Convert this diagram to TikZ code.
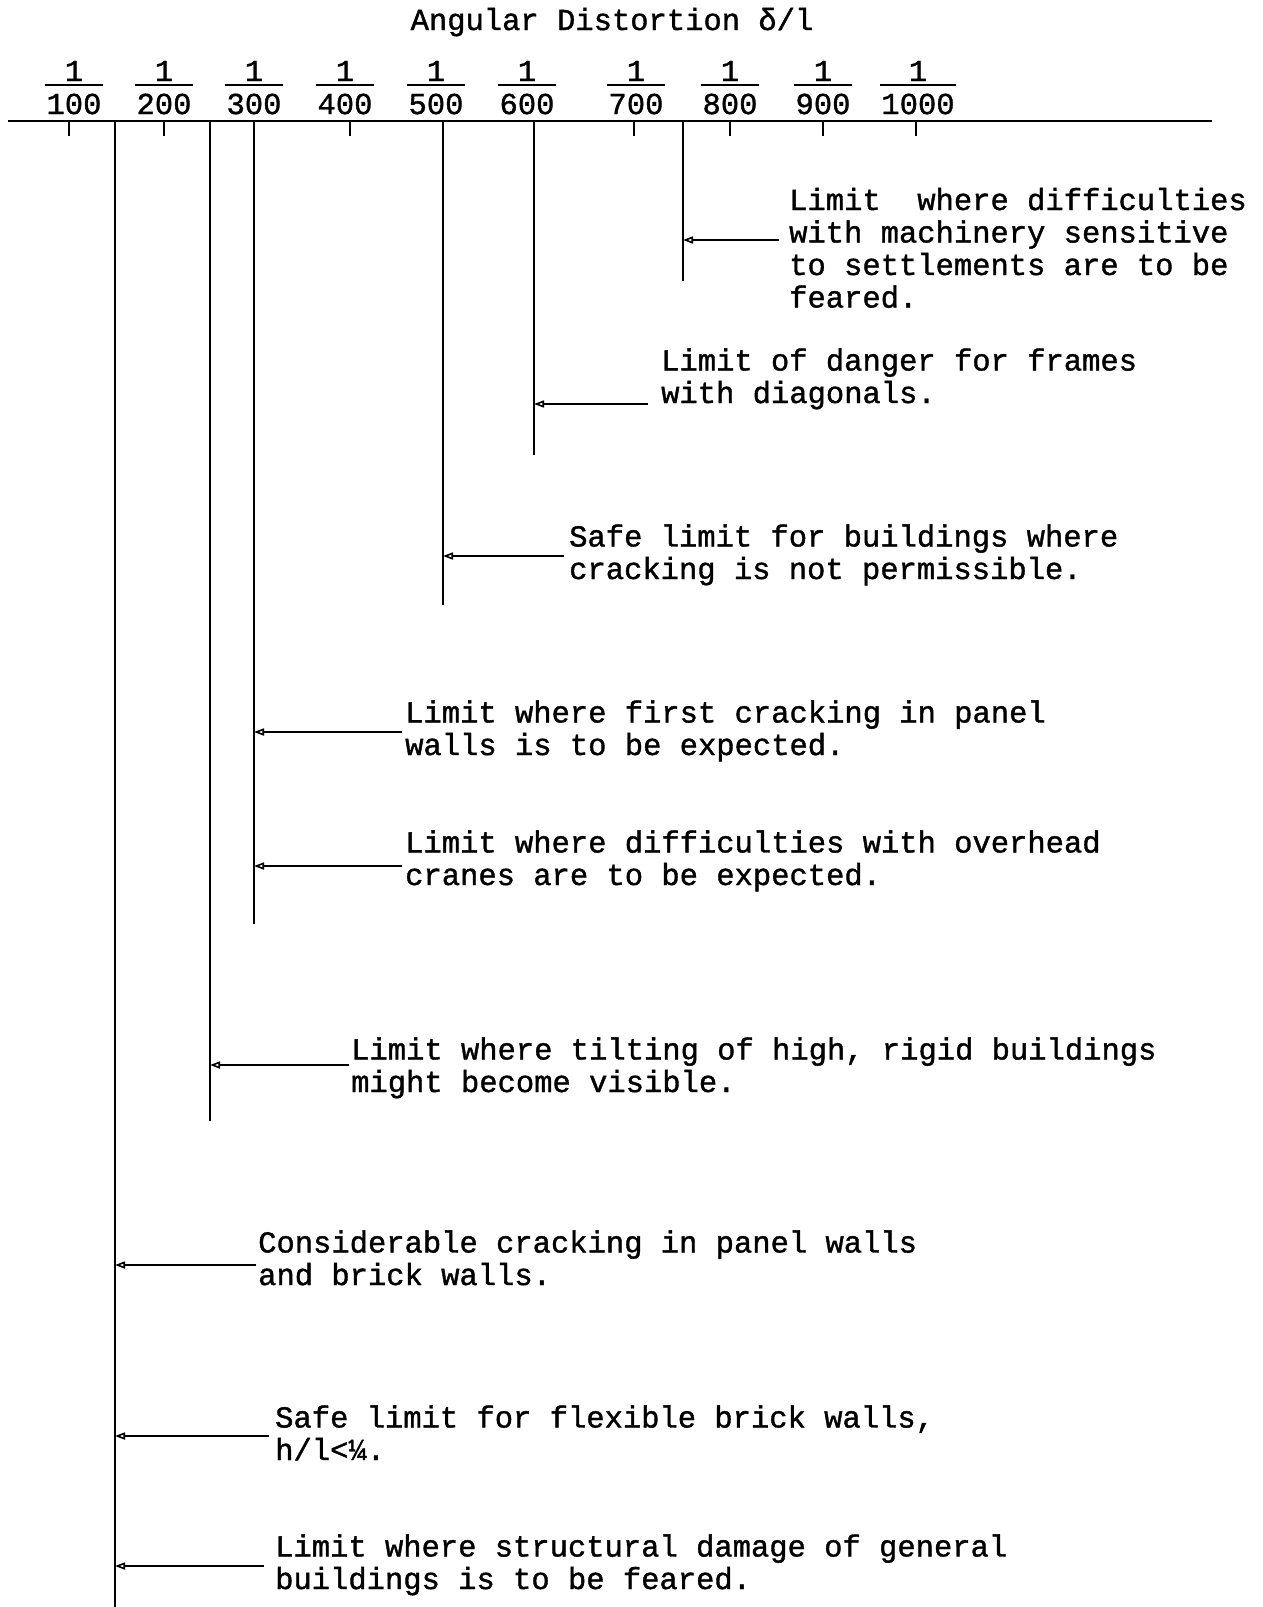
\documentclass[tikz,border=0pt]{standalone}
\usepackage{fontspec}
\setmainfont[FakeBold=1.2]{Liberation Mono}
\usetikzlibrary{arrows.meta}
\begin{document}
\begin{tikzpicture}[x=1pt,y=-1pt,
  txt/.style={inner sep=0pt,align=left,anchor=base west,font=\fontsize{30.5}{32.5}\selectfont},
  num/.style={inner sep=0pt,font=\fontsize{30.5}{32.5}\selectfont},
  rule/.style={line width=2.4pt},
  tick/.style={line width=2.2pt},
  ptr/.style={line width=1.8pt,-{Triangle[open,length=10pt,width=7pt,line width=1.6pt]}}]
\fill[white] (0,0) rectangle (1263,1607);
\useasboundingbox (0,0) rectangle (1263,1607);
% title
\node[num,anchor=base] (title) at (612,30) {Angular Distortion δ/l};
% axis
\coordinate (axL) at (8,121);
\coordinate (axR) at (1212,121);
\draw[rule] (axL) -- (axR);
% fractions
\foreach \d/\x in {100/74,200/164,300/254,400/345,500/436,600/527,700/636,800/730,900/823,1000/918}{
  \node[num] (n\d) at (\x,71) {1};
  \node[num] (d\d) at (\x,104) {\d};
  \draw[line width=2pt] ([xshift=-1pt]d\d.west |- 0,85) -- ([xshift=1pt]d\d.east |- 0,85);
}
% short ticks
\foreach \x/\n in {69/a,164/b,350/c,634/d,730/e,823/f,916/g}{
  \coordinate (t\n) at (\x,121);
  \draw[tick] (t\n) -- ++(0,15);
}
% long verticals
\coordinate (v1) at (115,121); \coordinate (v1b) at (115,1607);
\coordinate (v2) at (210,121); \coordinate (v2b) at (210,1121);
\coordinate (v3) at (254,121); \coordinate (v3b) at (254,924);
\coordinate (v4) at (443,121); \coordinate (v4b) at (443,605);
\coordinate (v5) at (534,121); \coordinate (v5b) at (534,455);
\coordinate (v6) at (683,121); \coordinate (v6b) at (683,281);
\foreach \i in {1,...,6}{ \draw[rule] (v\i) -- (v\i b); }
% labels (anchor = baseline of the last line)
\node[txt] (L1) at (789,307.5) {Limit\ \ where difficulties\\with machinery sensitive\\to settlements are to be\\feared.};
\node[txt] (L2) at (661,403) {Limit of danger for frames\\with diagonals.};
\node[txt] (L3) at (569,579) {Safe limit for buildings where\\cracking is not permissible.};
\node[txt] (L4) at (405,755) {Limit where first cracking in panel\\walls is to be expected.};
\node[txt] (L5) at (405,885) {Limit where difficulties with overhead\\cranes are to be expected.};
\node[txt] (L6) at (351,1092) {Limit where tilting of high, rigid buildings\\might become visible.};
\node[txt] (L7) at (258,1285) {Considerable cracking in panel walls\\and brick walls.};
\node[txt] (L8) at (275,1460) {Safe limit for flexible brick walls,\\h/l<¼.};
\node[txt] (L9) at (275,1589) {Limit where structural damage of general\\buildings is to be feared.};
% arrows
\coordinate (s1) at (779,240);
\coordinate (s2) at (648,404);
\coordinate (s3) at (564,556);
\coordinate (s4) at (402,732);
\coordinate (s5) at (402,866);
\coordinate (s6) at (349,1065);
\coordinate (s7) at (256,1265);
\coordinate (s8) at (269,1436);
\coordinate (s9) at (264,1566);
\draw[ptr] (s1) -- (s1 -| v6);
\draw[ptr] (s2) -- (s2 -| v5);
\draw[ptr] (s3) -- (s3 -| v4);
\draw[ptr] (s4) -- (s4 -| v3);
\draw[ptr] (s5) -- (s5 -| v3);
\draw[ptr] (s6) -- (s6 -| v2);
\draw[ptr] (s7) -- (s7 -| v1);
\draw[ptr] (s8) -- (s8 -| v1);
\draw[ptr] (s9) -- (s9 -| v1);
\end{tikzpicture}
\end{document}
